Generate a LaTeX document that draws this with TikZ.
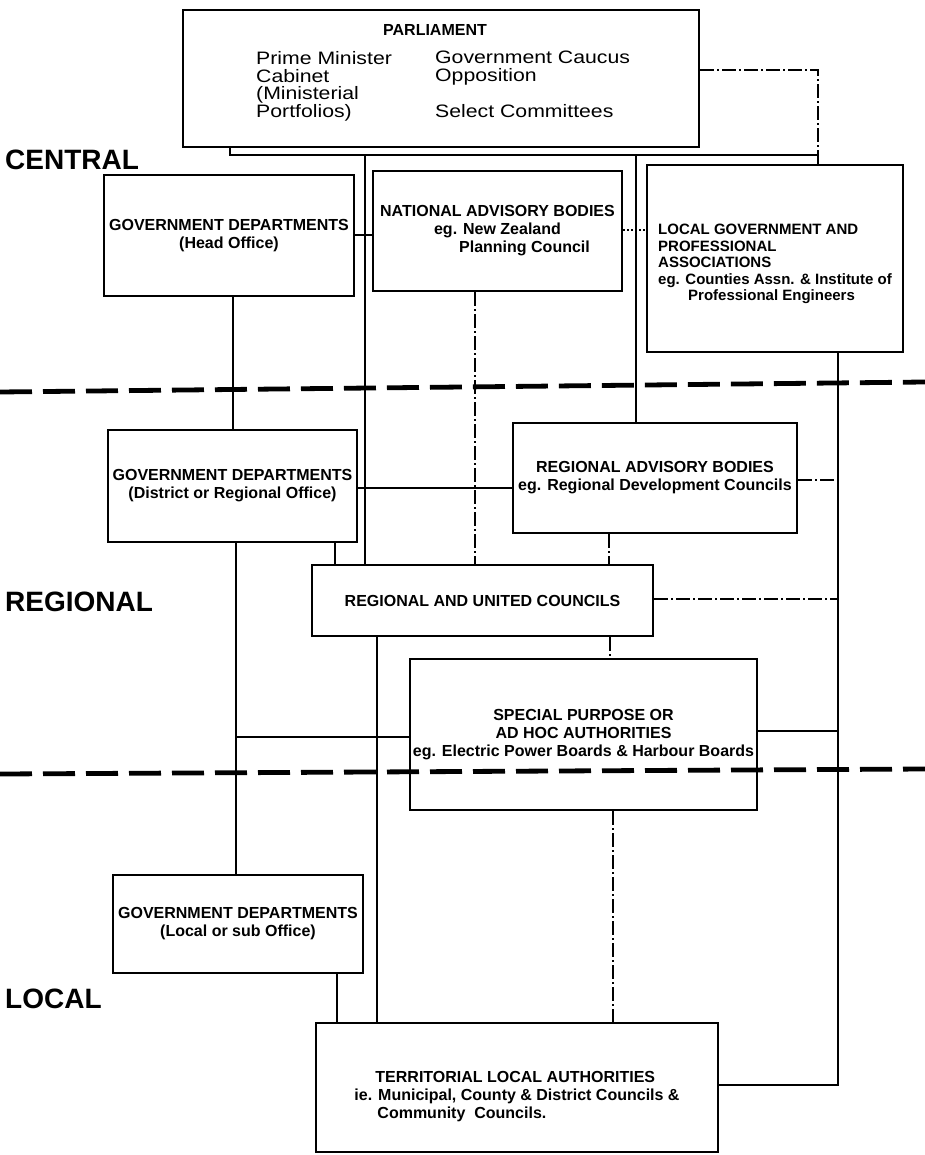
\documentclass[tikz,border=0pt]{standalone}
\usepackage{fontspec}
\setmainfont{Liberation Sans}
\newfontfamily\widesans[FakeStretch=1.18]{Liberation Sans}
\usetikzlibrary{positioning}
\newcommand\boxfont{\fontsize{16}{18}\selectfont\bfseries}
\newcommand\smallboxfont{\fontsize{15}{16.5}\selectfont\bfseries}
\newcommand\lvlfont{\fontsize{28}{30}\selectfont\bfseries}
\newcommand\parlfont{\widesans\fontsize{18}{17.8}\selectfont}
\tikzset{
  orgbox/.style={draw, line width=2.6pt, align=center, font=\boxfont,
    inner xsep=2pt, inner ysep=4pt},
  lvllabel/.style={font=\lvlfont, anchor=west, inner sep=0pt},
  link/.style={line width=1.6pt},
  dashdotlink/.style={line width=1.6pt, dash pattern=on 14pt off 3pt on 2pt off 3pt},
  dotlink/.style={line width=1.6pt, dash pattern=on 2pt off 2pt},
  divider/.style={line width=4.8pt, dash pattern=on 32pt off 11pt}
}

\begin{document}
\begin{tikzpicture}[x=1pt,y=-1pt]
  \useasboundingbox (0,0) rectangle (925,1155);

  % levels
  \node[lvllabel] (central) at (5,160) {CENTRAL};
  \node[lvllabel] (regional) at (5,602) {REGIONAL};
  \node[lvllabel] (local) at (5,999) {LOCAL};
  \draw[divider] (0,392) -- (925,382);
  \draw[divider] (0,774) -- (925,769);

  % parliament
  \node[orgbox, minimum width=516, minimum height=137] (parl) at (441,78.5) {};
  \node[font=\boxfont, inner sep=0pt] (parltitle) at (435,30) {PARLIAMENT};
  \node[font=\parlfont, align=left, anchor=north west, inner sep=0pt] (ministers) at (256,51)
    {Prime Minister\\Cabinet\\(Ministerial\\Portfolios)};
  \node[font=\parlfont, align=left, anchor=north west, inner sep=0pt] (house) at (435,51)
    {Government Caucus\\Opposition\\[17.8pt]Select Committees};

  % boxes
  \node[orgbox, minimum width=250, minimum height=121] (gdhead) at (229,235.5)
    {GOVERNMENT DEPARTMENTS\\(Head Office)};
  \node[orgbox, minimum width=249, minimum height=120] (nab) at (497.5,231)
    {NATIONAL ADVISORY BODIES\\eg. New Zealand\\\hspace*{54pt}Planning Council};
  \node[orgbox, minimum width=256, minimum height=187, align=left, font=\smallboxfont] (lgpa) at (775,258.5)
    {\rule{0pt}{22pt}LOCAL GOVERNMENT AND\\PROFESSIONAL\\ASSOCIATIONS\\eg. Counties Assn. \& Institute of\\\hspace*{30pt}Professional Engineers};
  \node[orgbox, minimum width=249, minimum height=112] (gdreg) at (232.5,486)
    {GOVERNMENT DEPARTMENTS\\(District or Regional Office)};
  \node[orgbox, minimum width=284, minimum height=110] (rab) at (655,478)
    {REGIONAL ADVISORY BODIES\\eg. Regional Development Councils};
  \node[orgbox, minimum width=341, minimum height=71] (ruc) at (482.5,600.5)
    {REGIONAL AND UNITED COUNCILS};
  \node[orgbox, minimum width=347, minimum height=151] (spah) at (583.5,734.5)
    {SPECIAL PURPOSE OR\\AD HOC AUTHORITIES\\eg. Electric Power Boards \& Harbour Boards};
  \node[orgbox, minimum width=250, minimum height=98] (gdloc) at (238,924)
    {GOVERNMENT DEPARTMENTS\\(Local or sub Office)};
  \node[orgbox, minimum width=402, minimum height=129, align=left] (tla) at (517,1087.5)
    {\rule{0pt}{30pt}\hspace*{21pt}TERRITORIAL LOCAL AUTHORITIES\\ie. Municipal, County \& District Councils \&\\\hspace*{23pt}Community\ \ Councils.};

  % columns and rows of the links
  \coordinate (cpar) at (230,0);
  \coordinate (chead) at (233,0);
  \coordinate (creg) at (236,0);
  \coordinate (cmid) at (365,0);
  \coordinate (cnab) at (475,0);
  \coordinate (crab) at (636,0);
  \coordinate (cbend) at (818,0);
  \coordinate (cright) at (838,0);
  \coordinate (cregruc) at (335,0);
  \coordinate (crabruc) at (609,0);
  \coordinate (cructla) at (377,0);
  \coordinate (crucsp) at (610,0);
  \coordinate (csptla) at (613,0);
  \coordinate (clocal) at (337,0);
  \coordinate (trunk) at (0,155);
  \coordinate (rparl) at (0,70);
  \coordinate (rhead) at (0,235);
  \coordinate (rnab) at (0,230);
  \coordinate (rreg) at (0,488);
  \coordinate (rrab) at (0,480);
  \coordinate (rruc) at (0,599);
  \coordinate (rsp) at (0,737);
  \coordinate (rspright) at (0,731);
  \coordinate (rtla) at (0,1085);

  % central
  \draw[link] (parl.south -| cpar) -- (cpar |- trunk) -- (cbend |- trunk);
  \draw[dashdotlink] (parl.east |- rparl) -- (cbend |- rparl) -- (lgpa.north -| cbend);
  \draw[link] (cmid |- trunk) -- (ruc.north -| cmid);
  \draw[link] (crab |- trunk) -- (rab.north -| crab);
  \draw[link] (gdhead.east |- rhead) -- (nab.west |- rhead);
  \draw[dotlink] (nab.east |- rnab) -- (lgpa.west |- rnab);
  \draw[dashdotlink] (nab.south -| cnab) -- (ruc.north -| cnab);
  \draw[link] (gdhead.south -| chead) -- (gdreg.north -| chead);
  \draw[link] (lgpa.south -| cright) -- (cright |- rtla) -- (tla.east |- rtla);

  % regional
  \draw[link] (gdreg.east |- rreg) -- (rab.west |- rreg);
  \draw[dashdotlink] (rab.east |- rrab) -- (cright |- rrab);
  \draw[dashdotlink] (rab.south -| crabruc) -- (ruc.north -| crabruc);
  \draw[link] (gdreg.south -| cregruc) -- (ruc.north -| cregruc);
  \draw[dashdotlink] (ruc.east |- rruc) -- (cright |- rruc);
  \draw[dashdotlink] (ruc.south -| crucsp) -- (spah.north -| crucsp);
  \draw[link] (spah.east |- rspright) -- (cright |- rspright);
  \draw[link] (gdreg.south -| creg) -- (gdloc.north -| creg);
  \draw[link] (creg |- rsp) -- (spah.west |- rsp);

  % local
  \draw[link] (ruc.south -| cructla) -- (tla.north -| cructla);
  \draw[dashdotlink] (spah.south -| csptla) -- (tla.north -| csptla);
  \draw[link] (gdloc.south -| clocal) -- (tla.north -| clocal);
\end{tikzpicture}
\end{document}
